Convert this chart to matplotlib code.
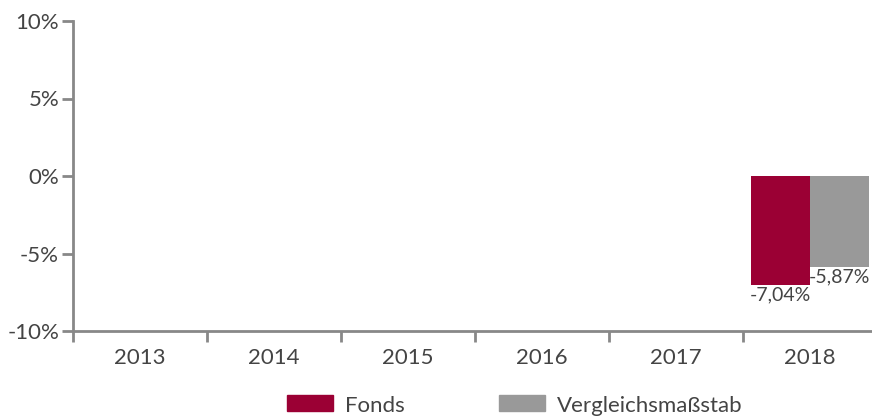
import numpy as np
import matplotlib
matplotlib.use("Agg")
import matplotlib.pyplot as plt
from matplotlib.patches import Rectangle

# Daten
years = ["2013", "2014", "2015", "2016", "2017", "2018"]
fonds = [np.nan, np.nan, np.nan, np.nan, np.nan, -7.04]
vergleich = [np.nan, np.nan, np.nan, np.nan, np.nan, -5.87]
y_ticks = [-10, -5, 0, 5, 10]
series_names = ["Fonds", "Vergleichsmaßstab"]

C_FONDS = "#9b0034"
C_VERGL = "#999999"
C_AXIS = "#888888"
C_TEXT = "#444444"

plt.rcParams["font.family"] = ["Lato", "DejaVu Sans"]

W, H = 872, 416
fig = plt.figure(figsize=(W / 100, H / 100), dpi=100)
ax = fig.add_axes([73 / W, (H - 331) / H, (877 - 73) / W, (331 - 21) / H])

x = np.arange(len(years))
bw = 0.44
b1 = ax.bar(x - bw / 2, fonds, bw, color=C_FONDS)
b2 = ax.bar(x + bw / 2, vergleich, bw, color=C_VERGL)


def fmt(v):
    return f"{v:.2f}".replace(".", ",") + "%"


for bars, vals in ((b1, fonds), (b2, vergleich)):
    for rect, v in zip(bars, vals):
        if np.isnan(v):
            continue
        ax.annotate(fmt(v), (rect.get_x() + rect.get_width() / 2, v),
                    xytext=(0, -1), textcoords="offset points",
                    ha="center", va="top", fontsize=14, color=C_TEXT)

ax.set_xlim(-0.5, len(years) - 0.5)
ax.set_ylim(-10, 10)
ax.set_yticks(y_ticks)
ax.set_yticklabels([f"{t}%" for t in y_ticks])
ax.set_xticks(x)
ax.set_xticklabels(years)
ax.set_xticks(np.arange(len(years) + 1) - 0.5, minor=True)

for s in ("top", "right"):
    ax.spines[s].set_visible(False)
for s in ("left", "bottom"):
    ax.spines[s].set_color(C_AXIS)
    ax.spines[s].set_linewidth(2)

ax.tick_params(axis="y", length=8, width=2, color=C_AXIS, labelsize=16,
               labelcolor=C_TEXT, pad=2)
ax.tick_params(axis="x", which="major", length=0, labelsize=16,
               labelcolor=C_TEXT, pad=12)
ax.tick_params(axis="x", which="minor", length=8, width=2, color=C_AXIS)

# Legende (unten)
for (x0, name, col) in ((287, series_names[0], C_FONDS),
                        (499, series_names[1], C_VERGL)):
    fig.patches.append(Rectangle((x0 / W, (H - 411) / H), 46 / W, 16 / H,
                                 transform=fig.transFigure, color=col))
    fig.text((x0 + 58) / W, 0.5 / H, name, fontsize=16, color=C_TEXT,
             ha="left", va="bottom")

fig.savefig("out.png", dpi=100)
